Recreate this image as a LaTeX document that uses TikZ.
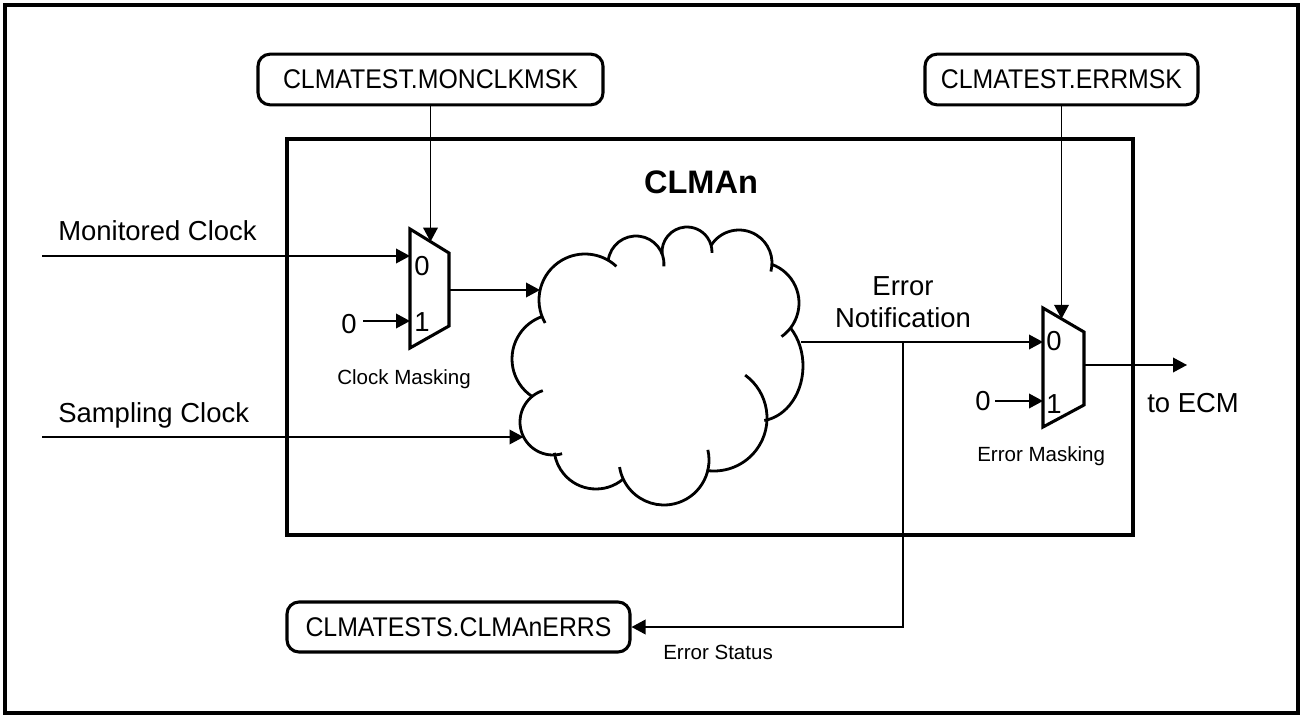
\documentclass[tikz,border=0pt]{standalone}
\usepackage{graphicx}
\usepackage{fontspec}
\setmainfont{Liberation Sans}
\usetikzlibrary{arrows.meta}
\newcommand\cloudpuff[5]{\draw[cloudline] (#1,#2) ++(#4:#3) arc[start angle=#4,end angle=#5,radius=#3];}
\newcommand\regtxt[1]{\scalebox{0.92}[1]{#1}}
\begin{document}
\begin{tikzpicture}[x=0.75pt,y=-0.75pt,
  thinline/.style={line width=1.15pt},
  thickline/.style={line width=2.3pt},
  cloudline/.style={line width=2.1pt},
  arr/.style={thinline,-{Triangle[length=10.5pt,width=11pt]}},
  regbox/.style={draw,thickline,rounded corners=9pt,inner sep=0pt,minimum height=38pt,font=\fontsize{20.25}{24}\selectfont},
  lbl/.style={inner sep=0pt,font=\fontsize{20.6}{24}\selectfont},
  small/.style={inner sep=0pt,font=\fontsize{15.4}{18}\selectfont},
  title/.style={inner sep=0pt,font=\fontsize{24.4}{28}\selectfont\bfseries},
  muxshape/.style={thickline,line join=miter}
]
\useasboundingbox (0,0) rectangle (1304,717);
% frames
\draw[thickline] (5,5) rectangle (1298,713);
\draw[thickline] (287,139) rectangle (1133,535);

% register boxes
\node[regbox,minimum width=258.75pt] (box1) at (430.5,79.5) {\regtxt{CLMATEST.MONCLKMSK}};
\node[regbox,minimum width=204.75pt] (box2) at (1061.5,79.5) {\regtxt{CLMATEST.ERRMSK}};
\node[regbox,minimum width=257.25pt,minimum height=37.5pt] (box3) at (458.5,627) {\regtxt{CLMATESTS.CLMAnERRS}};

% title
\node[title,anchor=base] (ttl) at (701,193) {CLMAn};

% mux 1
\draw[muxshape] (410,229) -- (449,253) -- (449,326) -- (410,348) -- cycle;
\coordinate (m1in0) at (410,256);
\coordinate (m1in1) at (410,321);
\coordinate (m1sel) at (430.5,241.6);
\coordinate (m1out) at (449,290);
\node[lbl,anchor=base west] (m1d0) at (414,275) {0};
\node[lbl,anchor=base west] (m1d1) at (414,331) {1};
\node[small,anchor=base west] (cmask) at (337,384) {Clock Masking};

% mux 2
\draw[muxshape] (1043,308) -- (1084,332) -- (1084,405) -- (1043,427) -- cycle;
\coordinate (m2in0) at (1043,342);
\coordinate (m2in1) at (1043,401);
\coordinate (m2sel) at (1061.5,318.8);
\coordinate (m2out) at (1084,365);
\node[lbl,anchor=base west] (m2d0) at (1046,350) {0};
\node[lbl,anchor=base west] (m2d1) at (1046,413) {1};
\node[small,anchor=base west] (emask) at (977,461) {Error Masking};

% cloud
\cloudpuff{585}{300}{46}{150}{313}
\cloudpuff{636}{264}{28}{187}{365}
\cloudpuff{687}{252}{25}{175}{362}
\cloudpuff{739}{263}{33}{212}{375}
\cloudpuff{758}{303}{41}{290}{415}
\draw[cloudline] (758,366) ++(316:45 and 55) arc[start angle=316,end angle=442,x radius=45,y radius=55];
\cloudpuff{714}{418}{53}{306}{458}
\cloudpuff{664}{460}{45}{347}{531}
\cloudpuff{596}{447}{42}{50}{172}
\cloudpuff{553}{422}{33}{74}{252}
\cloudpuff{557}{359}{45}{124}{251}
\coordinate (cin1) at (540,290);
\coordinate (cin2) at (523.5,437);
\coordinate (cout) at (801,342);

% labels
\node[lbl,anchor=base west] (mclk) at (58,240) {Monitored Clock};
\node[lbl,anchor=base west] (sclk) at (58,422) {Sampling Clock};
\node[lbl,align=center] (enot) at (903,302) {Error\\Notification};
\node[lbl,anchor=base west] (ecm) at (1147,412) {to ECM};
\node[small,anchor=base west] (estat) at (663,659) {Error Status};
\node[lbl,anchor=base west] (z1) at (341,333) {0};
\node[lbl,anchor=base west] (z2) at (975,410) {0};

% free ends
\coordinate (mcin) at (42,256);
\coordinate (scin) at (42,437);
\coordinate (z1s) at (363,321);
\coordinate (z2s) at (995,401);
\coordinate (ecmend) at (1187,365);
\coordinate (br) at (903,342);

% connectors
\draw[arr] (box1.south) -- (m1sel);
\draw[arr] (box2.south) -- (m2sel);
\draw[arr] (mcin) -- (m1in0);
\draw[arr] (z1s) -- (m1in1);
\draw[arr] (m1out) -- (cin1);
\draw[arr] (scin) -- (cin2);
\draw[arr] (cout) -- (m2in0);
\draw[arr] (z2s) -- (m2in1);
\draw[arr] (m2out) -- (ecmend);
\draw[arr] (br) |- (box3.east);
\end{tikzpicture}
\end{document}
